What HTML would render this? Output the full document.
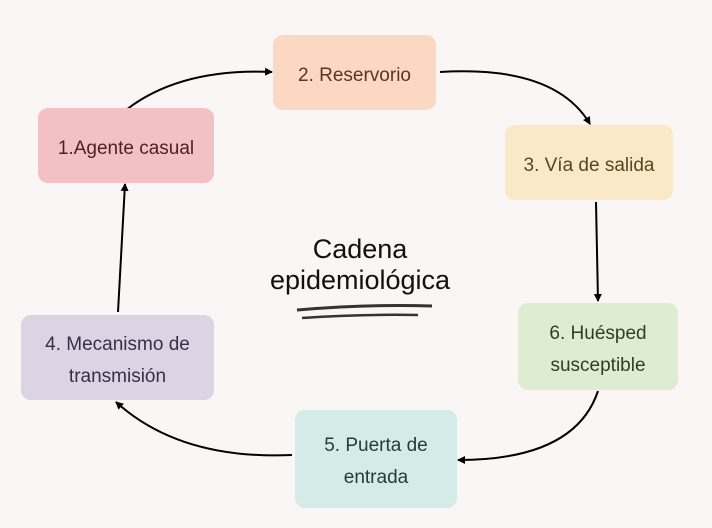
<!DOCTYPE html>
<html><head><style>
body{margin:0;width:712px;height:528px;background:#f9f6f5;position:relative;overflow:hidden;font-family:"Liberation Sans",sans-serif}
.b{position:absolute;border-radius:10px;display:flex;align-items:center;justify-content:center;text-align:center;font-size:19px;line-height:32px;box-sizing:border-box;padding-top:6px}
</style></head><body>
<svg width="712" height="528" style="position:absolute;left:0;top:0">
<defs><marker id="a" markerWidth="8" markerHeight="8" refX="7" refY="4" orient="auto" markerUnits="userSpaceOnUse"><path d="M0,0 L8,4 L0,8z" fill="#000"/></marker></defs>
<g stroke="#000" stroke-width="2" fill="none" marker-end="url(#a)">
<path d="M126,110 Q180,68 272,72"/>
<path d="M440,72 Q555,65 590,124"/>
<path d="M596,202 L598,301"/>
<path d="M598,391 Q575,460 458,460"/>
<path d="M292,455 Q180,460 116,402"/>
<path d="M118,312 L125,184"/>
</g>
<path d="M297,310 Q370,304 432,306" stroke="#333" stroke-width="3" fill="none"/>
<path d="M302,318 Q360,314 418,315" stroke="#333" stroke-width="2.5" fill="none"/>
</svg>
<div class="b" style="left:38px;top:108px;width:176px;height:75px;background:#f3c1c4;color:#4a1f26">1.Agente casual</div>
<div class="b" style="left:273px;top:35px;width:163px;height:75px;background:#fbd8c2;color:#5a3520">2. Reservorio</div>
<div class="b" style="left:505px;top:125px;width:168px;height:75px;background:#fae9c6;color:#5a4520">3. Vía de salida</div>
<div class="b" style="left:21px;top:315px;width:193px;height:85px;background:#dcd3e3;color:#3a2e48">4. Mecanismo de<br>transmisión</div>
<div class="b" style="left:295px;top:410px;width:162px;height:98px;background:#d5ebe8;color:#203e3c">5. Puerta de<br>entrada</div>
<div class="b" style="left:518px;top:303px;width:160px;height:87px;background:#deedd2;color:#2f4020">6. Huésped<br>susceptible</div>
<div style="position:absolute;left:240px;top:234px;width:240px;text-align:center;font-size:27px;line-height:31px;color:#111">Cadena<br>epidemiológica</div>
</body></html>
